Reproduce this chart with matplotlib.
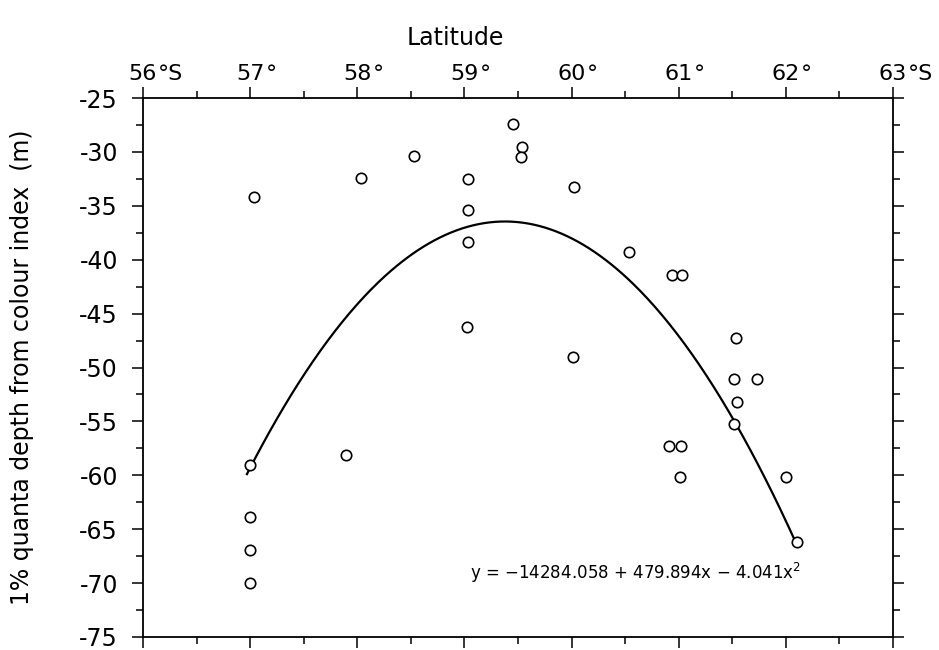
import numpy as np
import matplotlib
matplotlib.use("Agg")
import matplotlib.pyplot as plt
from matplotlib.ticker import MultipleLocator

plt.rcParams['font.family'] = ['DejaVu Sans']

# observations: latitude (deg S) and 1% quanta depth (m)
lat = [57.0, 57.0, 57.0, 57.0, 57.04, 57.89, 58.03, 58.53,
       59.03, 59.03, 59.03, 59.02, 59.45, 59.54, 59.53,
       60.02, 60.01, 60.54, 60.94, 61.03, 60.91, 61.02, 61.01,
       61.53, 61.52, 61.73, 61.54, 61.52, 62.0, 62.1]
depth = [-59.0, -63.9, -66.9, -70.0, -34.2, -58.1, -32.4, -30.4,
         -32.5, -35.4, -38.4, -46.2, -27.4, -29.5, -30.5,
         -33.3, -49.0, -39.3, -41.4, -41.4, -57.3, -57.3, -60.2,
         -47.3, -51.1, -51.1, -53.2, -55.2, -60.2, -66.2]

# fitted quadratic printed on the chart
fit_coef = [-14284.058, 479.894, -4.041]
fit_range = [56.97, 62.1]

xticks = [56, 57, 58, 59, 60, 61, 62, 63]
xtick_suffix = ['°S', '°', '°', '°', '°', '°', '°', '°S']
yticks = [-25, -30, -35, -40, -45, -50, -55, -60, -65, -70, -75]

fig = plt.figure(figsize=(9.39, 6.5), dpi=100)
ax = fig.add_axes([143/939, 13/650, 750/939, 539/650])

xs = np.linspace(fit_range[0], fit_range[1], 300)
ys = fit_coef[0] + fit_coef[1]*xs + fit_coef[2]*xs**2
ax.plot(xs, ys, color='black', lw=1.6)
ax.plot(lat, depth, 'o', mfc='white', mec='black', ms=7.5, mew=1.2)

ax.set_xlim(56, 63)
ax.set_ylim(-75, -25)
ax.xaxis.set_major_locator(MultipleLocator(1))
ax.xaxis.set_minor_locator(MultipleLocator(0.5))
ax.yaxis.set_major_locator(MultipleLocator(5))
ax.yaxis.set_minor_locator(MultipleLocator(2.5))
ax.tick_params(axis='x', which='both', top=True, bottom=True,
               labeltop=False, labelbottom=False, direction='out')
ax.tick_params(axis='y', which='both', left=True, right=True,
               direction='out', labelsize=17, pad=10)
ax.tick_params(which='major', length=8, width=1.1)
ax.tick_params(which='minor', length=5, width=1.1)
ax.set_yticks(yticks)
ax.set_yticklabels([str(v) for v in yticks])
for s in ax.spines.values():
    s.set_linewidth(1.3)

tr = ax.get_xaxis_transform()
for v, suf in zip(xticks, xtick_suffix):
    ax.annotate(str(v), xy=(v, 1.0), xycoords=tr, xytext=(0, 13),
                textcoords='offset points', ha='center', va='baseline',
                fontsize=16)
    ax.annotate(suf, xy=(v, 1.0), xycoords=tr, xytext=(11, 13),
                textcoords='offset points', ha='left', va='baseline',
                fontsize=16)

fig.text(455/939, 1 - 45/650, 'Latitude', ha='center', va='baseline', fontsize=17)
fig.text(22/939, (650 - 367)/650, '1% quanta depth from colour index  (m)',
         rotation=90, ha='center', va='center', fontsize=17)

ax.text(59.05, -69.1, 'y = \u221214284.058 + 479.894x \u2212 4.041x$^2$',
        ha='left', va='center', fontsize=12)

fig.savefig('out.png', dpi=100)
